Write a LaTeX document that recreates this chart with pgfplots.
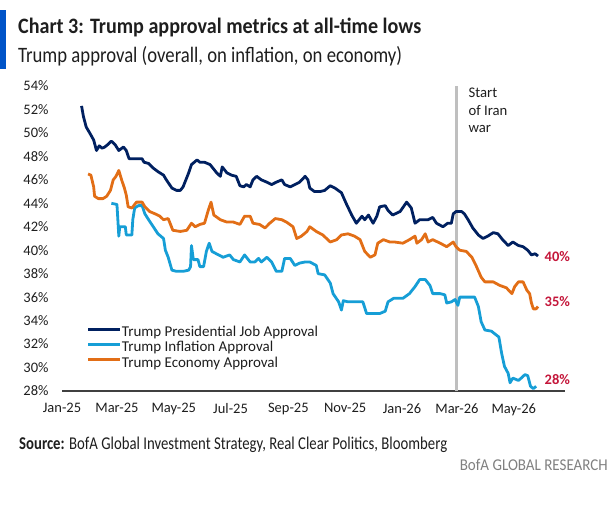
\documentclass[border=0pt]{standalone}
\usepackage{pgfplots}
\pgfplotsset{compat=1.18}
\usepackage{fontspec}
\setmainfont{Carlito}
\usepackage{graphicx}
\definecolor{navy}{RGB}{0,32,96}
\definecolor{lblue}{RGB}{22,158,214}
\definecolor{orng}{RGB}{226,110,22}
\definecolor{crim}{RGB}{196,22,58}
\definecolor{barblue}{RGB}{0,84,200}
\definecolor{grayline}{RGB}{191,191,191}
\definecolor{txt}{RGB}{30,30,30}
\definecolor{axgray}{RGB}{64,64,64}
\begin{document}
\begin{tikzpicture}[x=1pt,y=1pt]
\path[use as bounding box] (0,0) rectangle (615,518);
\fill[barblue] (0,449) rectangle (6,508);
\node[anchor=base west, inner sep=0pt, text=txt] at (18,484.7) {\resizebox{403pt}{\height}{\fontsize{22}{22}\selectfont\bfseries Chart 3: Trump approval metrics at all-time lows}};
\node[anchor=base west, inner sep=0pt, text=txt] at (18,455.3) {\resizebox{384pt}{\height}{\fontsize{22}{22}\selectfont Trump approval (overall, on inflation, on economy)}};
\node[anchor=base west, inner sep=0pt, text=txt] at (19,68) {\resizebox{428pt}{\height}{\fontsize{18}{18}\selectfont\textbf{Source:} BofA Global Investment Strategy, Real Clear Politics, Bloomberg}};
\node[anchor=base east, inner sep=0pt, text=gray] at (608,47) {\resizebox{148pt}{\height}{\fontsize{16.5}{16.5}\selectfont BofA GLOBAL RESEARCH}};
\begin{axis}[
  at={(62pt,127pt)}, anchor=south west,
  scale only axis, width=503pt, height=305pt,
  xmin=0, xmax=540, ymin=28, ymax=54,
  axis x line=bottom, axis y line=left,
  x axis line style={-, draw=axgray, line width=1.3pt},
  y axis line style={draw=none},
  major tick length=0pt,
  xtick={0,59,120,181,243,304,365,424,485},
  xticklabels={Jan-25,Mar-25,May-25,Jul-25,Sep-25,Nov-25,Jan-26,Mar-26,May-26},
  ytick={28,30,...,54},
  yticklabels={28\%,30\%,32\%,34\%,36\%,38\%,40\%,42\%,44\%,46\%,48\%,50\%,52\%,54\%},
  tick label style={font=\fontsize{14.5}{16}\selectfont, text=txt},
  yticklabel style={xshift=-10pt},
  xticklabel style={yshift=-9pt},
  /pgf/number format/assume math mode=true,
  clip=false,
  legend style={at={(0.049,0.214)}, anchor=north west, draw=none, fill=none,
    inner sep=0pt, outer sep=0pt, font=\fontsize{15}{15}\selectfont, row sep=0pt,
    nodes={inner sep=0.5pt, text height=10.5pt, text depth=3.75pt, text=txt}},
  legend image code/.code={\draw[#1, line width=2.8pt] (0pt,4pt) -- (32pt,4pt);},
  legend cell align=left,
]
\addplot[grayline, line width=3.5pt, forget plot] coordinates {(423.5,28) (423.5,54)};
\addplot[navy, line width=2.8pt, line join=round] coordinates {
(21,52.3)(23,51.4)(26,50.5)(29,50.1)(34,49.4)(37,48.5)(40,48.9)(43,48.7)(46,48.8)(49,49.0)(53,49.3)(57,49.0)(61,48.5)(66,48.8)(69,48.5)(72,47.8)(80,47.8)(86,47.8)(88,47.5)(93,47.4)(98,47.0)(103,46.7)(109,46.4)(112,46.0)(118,45.3)(123,45.1)(127,45.1)(130,45.4)(136,46.6)(139,47.3)(145,47.7)(148,47.5)(153,47.5)(159,47.3)(166,46.6)(170,46.3)(172,47.1)(177,46.6)(182,46.4)(187,46.3)(191,45.5)(195,45.4)(198,45.6)(202,45.4)(205,46.0)(209,46.3)(214,46.0)(220,45.8)(225,45.6)(230,45.8)(236,46.0)(239,45.6)(245,45.4)(250,45.6)(255,45.8)(261,46.3)(264,46.0)(266,45.3)(271,45.0)(277,45.0)(282,45.1)(288,45.5)(293,45.3)(300,44.9)(305,44.0)(311,43.0)(316,42.3)(322,42.9)(325,42.6)(329,43.0)(334,42.3)(338,42.9)(341,43.7)(347,43.8)(350,43.4)(355,43.0)(363,43.3)(370,44.1)(375,43.6)(379,42.3)(384,42.6)(393,42.6)(398,42.8)(402,42.3)(409,42.0)(414,42.3)(418,42.3)(420,43.1)(423,43.3)(429,43.3)(432,43.1)(436,42.6)(441,41.9)(447,41.3)(452,41.0)(457,41.2)(463,41.5)(468,41.4)(473,40.9)(479,40.4)(484,40.7)(490,40.4)(495,40.3)(500,40.0)(504,39.6)(508,39.7)(511,39.5)};
\addlegendentry{Trump Presidential Job Approval}
\addplot[lblue, line width=2.8pt, line join=round] coordinates {
(53,44.0)(59,43.9)(61,41.2)(62,42.0)(68,42.0)(69,41.3)(75,41.3)(76,42.6)(78,43.6)(82,43.8)(86,43.8)(89,43.1)(93,42.6)(98,42.0)(103,41.4)(109,41.0)(111,40.0)(114,39.4)(118,38.3)(123,38.2)(130,38.2)(136,38.3)(138,38.6)(139,40.4)(141,39.2)(146,39.2)(148,38.6)(152,38.6)(155,39.9)(158,40.6)(161,39.9)(168,39.6)(173,39.4)(180,39.6)(184,39.2)(191,39.0)(196,39.6)(202,39.0)(207,39.0)(211,39.3)(214,39.0)(220,39.4)(225,39.0)(230,38.2)(236,38.2)(239,39.3)(245,39.3)(250,38.7)(255,38.9)(261,39.0)(266,39.0)(273,38.7)(275,38.0)(282,37.9)(288,37.2)(291,36.3)(297,35.6)(300,34.9)(302,35.7)(307,35.6)(323,35.6)(327,34.6)(341,34.6)(347,34.8)(350,35.6)(356,35.9)(366,35.9)(373,36.3)(379,36.9)(384,37.5)(390,37.5)(395,37.0)(398,36.3)(406,36.3)(411,36.2)(413,35.5)(418,35.6)(422,35.8)(425,35.3)(427,36.0)(443,36.0)(447,35.2)(450,33.9)(454,33.2)(461,33.1)(469,32.6)(472,31.2)(475,30.1)(479,29.5)(481,28.7)(484,29.1)(490,28.9)(493,29.1)(497,29.4)(500,29.3)(503,28.4)(506,28.2)(509,28.4)};
\addlegendentry{Trump Inflation Approval}
\addplot[orng, line width=2.8pt, line join=round] coordinates {
(28,46.5)(31,46.4)(34,45.4)(35,44.6)(39,44.4)(44,44.4)(48,44.6)(52,45.1)(55,46.0)(58,46.3)(61,46.8)(64,46.0)(67,45.3)(69,44.7)(71,43.7)(75,43.6)(80,44.1)(86,44.1)(89,43.7)(94,43.3)(100,43.1)(105,42.9)(109,42.6)(114,42.7)(119,41.7)(127,41.6)(134,41.7)(139,42.3)(143,42.0)(148,42.2)(153,42.3)(157,43.4)(160,44.1)(163,43.0)(170,42.6)(177,42.4)(184,42.4)(191,42.2)(196,42.9)(202,42.9)(205,42.3)(212,42.2)(218,41.9)(223,42.3)(229,42.7)(236,42.6)(241,42.4)(248,42.0)(252,41.0)(257,41.2)(263,41.6)(266,42.0)(273,41.6)(280,41.3)(288,40.7)(295,40.9)(300,41.3)(307,41.4)(314,41.2)(320,40.9)(325,39.9)(331,39.4)(336,39.6)(339,40.6)(345,40.9)(352,40.7)(357,40.7)(366,40.6)(373,40.9)(379,41.2)(381,40.6)(386,40.9)(390,41.4)(393,40.7)(398,40.9)(406,40.6)(413,40.3)(420,40.7)(423,40.3)(427,40.0)(434,39.9)(440,39.4)(445,38.6)(450,37.7)(454,37.3)(463,37.3)(470,37.0)(477,36.8)(483,36.3)(486,36.9)(490,37.3)(495,37.3)(499,36.6)(502,36.3)(504,35.5)(506,35.0)(509,35.0)(511,35.2)};
\addlegendentry{Trump Economy Approval}
\node[anchor=base west, inner sep=0pt, text=txt, font=\fontsize{14.7}{15}\selectfont] at (axis cs:436.3,52.98) {Start};
\node[anchor=base west, inner sep=0pt, text=txt, font=\fontsize{14.7}{15}\selectfont] at (axis cs:436.3,51.50) {of Iran};
\node[anchor=base west, inner sep=0pt, text=txt, font=\fontsize{14.7}{15}\selectfont] at (axis cs:436.3,50.02) {war};
\node[anchor=west, inner sep=0pt, text=crim, font=\bfseries\fontsize{14.5}{15}\selectfont] at (axis cs:518,39.45) {40\%};
\node[anchor=west, inner sep=0pt, text=crim, font=\bfseries\fontsize{14.5}{15}\selectfont] at (axis cs:518,35.6) {35\%};
\node[anchor=west, inner sep=0pt, text=crim, font=\bfseries\fontsize{14.5}{15}\selectfont] at (axis cs:518,29.0) {28\%};
\end{axis}
\end{tikzpicture}
\end{document}
